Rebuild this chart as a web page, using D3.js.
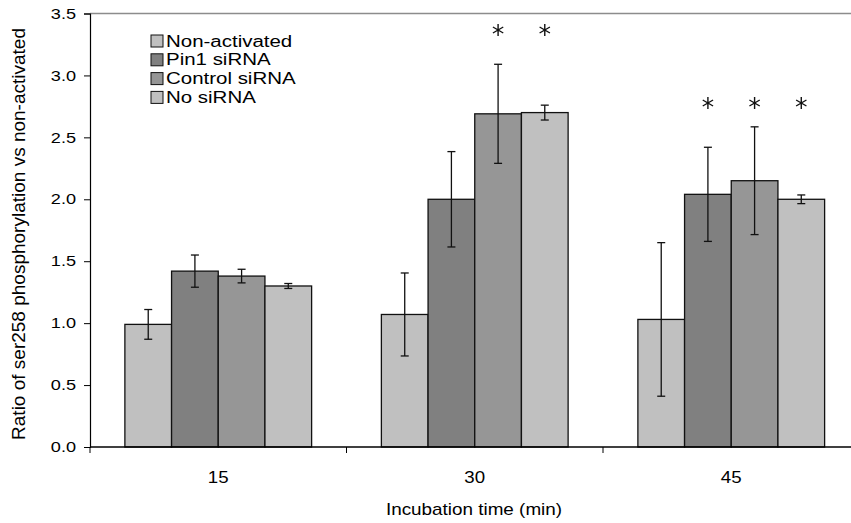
<!DOCTYPE html>
<html>
<head>
<meta charset="utf-8">
<script src="https://cdn.jsdelivr.net/npm/d3@7"></script>
<style>
  body { margin: 0; background: #fff; }
  text { font-family: "Liberation Sans", Arial, sans-serif; fill: #000; }
</style>
</head>
<body>
<div id="chart"></div>
<script>
// data
const times = ["15", "30", "45"]
const groups = ["Non-activated", "Pin1 siRNA", "Control siRNA", "No siRNA"]
const colors = ["#c0c0c0", "#808080", "#969696", "#c0c0c0"]
const means = [
  [0.99, 1.42, 1.38, 1.30],
  [1.07, 2.00, 2.69, 2.70],
  [1.03, 2.04, 2.15, 2.00]
]
const errs = [
  [0.12, 0.13, 0.055, 0.02],
  [0.335, 0.385, 0.40, 0.06],
  [0.62, 0.38, 0.435, 0.035]
]
// which bars carry an asterisk
const stars = [
  [false, false, false, false],
  [false, false, true, true],
  [false, true, true, true]
]
const yTicks = [0, 0.5, 1, 1.5, 2, 2.5, 3, 3.5]

var width = 851,
    height = 523,
    margin = {top: 13.5, left: 90, right: -8.5, bottom: 76}

// the source figure is stretched sideways, so text is widened a bit
var stretch = 1.25

var svg = d3.select("#chart")
  .append("svg")
    .attr("width", width)
    .attr("height", height)

var x0 = d3.scaleBand()
  .domain(times)
  .range([margin.left, width - margin.right])
  .paddingInner(0.272)
  .paddingOuter(0.136)

var x1 = d3.scaleBand()
  .domain(groups)
  .range([0, x0.bandwidth()])

var y = d3.scaleLinear()
  .domain([0, 3.5])
  .range([height - margin.bottom, margin.top])

// top border of plot area
svg.append("line")
  .attr("x1", margin.left).attr("x2", width)
  .attr("y1", y(3.5)).attr("y2", y(3.5))
  .attr("stroke", "#8c8c8c")
  .attr("stroke-width", 1.5)

// bars
var rows = means.map((m, i) => m.map((v, j) => ({
  t: times[i], g: groups[j], v: v, e: errs[i][j], star: stars[i][j], c: colors[j]
})))

var gGroups = svg.selectAll(".grp")
  .data(rows)
  .enter()
  .append("g")
    .attr("transform", (d, i) => "translate(" + x0(times[i]) + ",0)")

gGroups.selectAll("rect")
  .data(d => d)
  .enter()
  .append("rect")
    .attr("x", d => x1(d.g))
    .attr("width", x1.bandwidth())
    .attr("y", d => y(d.v))
    .attr("height", d => y(0) - y(d.v))
    .attr("fill", d => d.c)
    .attr("stroke", "#111")
    .attr("stroke-width", 1.3)

// error bars
var eb = gGroups.selectAll(".err")
  .data(d => d)
  .enter()
  .append("g")
    .attr("stroke", "#111")
    .attr("stroke-width", 1.3)

eb.append("line")
  .attr("x1", d => x1(d.g) + x1.bandwidth() / 2)
  .attr("x2", d => x1(d.g) + x1.bandwidth() / 2)
  .attr("y1", d => y(d.v + d.e))
  .attr("y2", d => y(d.v - d.e))
eb.append("line")
  .attr("x1", d => x1(d.g) + x1.bandwidth() / 2 - 4)
  .attr("x2", d => x1(d.g) + x1.bandwidth() / 2 + 4)
  .attr("y1", d => y(d.v + d.e))
  .attr("y2", d => y(d.v + d.e))
eb.append("line")
  .attr("x1", d => x1(d.g) + x1.bandwidth() / 2 - 4)
  .attr("x2", d => x1(d.g) + x1.bandwidth() / 2 + 4)
  .attr("y1", d => y(d.v - d.e))
  .attr("y2", d => y(d.v - d.e))

// asterisks (thin six-armed star like the original)
var starY = [null, 30, 103]
var star = d3.symbol().type(d3.symbolAsterisk).size(100)
gGroups.each(function(d, i) {
  d3.select(this).selectAll(".star")
    .data(d.filter(r => r.star))
    .enter()
    .append("path")
      .attr("d", star)
      .attr("transform", r => "translate(" + (x1(r.g) + x1.bandwidth() / 2) + "," + starY[i] + ")")
      .attr("fill", "none")
      .attr("stroke", "#111")
      .attr("stroke-width", 1.4)
})

// y axis
var yAxis = d3.axisLeft(y)
  .tickValues(yTicks)
  .tickSize(6)
  .tickFormat(d3.format(".1f"))

var gy = svg.append("g")
  .attr("transform", "translate(" + margin.left + ",0)")
  .call(yAxis)
gy.select(".domain").attr("stroke", "#000").attr("stroke-width", 1.2)
gy.selectAll(".tick line").attr("stroke", "#000")
gy.selectAll(".tick text")
  .style("font-size", "14.5px")
  .style("font-family", "Liberation Sans, Arial, sans-serif")
  .attr("x", -14 / stretch)
  .attr("transform", "scale(" + stretch + ",1)")

// x axis line with ticks at group boundaries
var xBounds = times.map(t => x0(t) - x0.step() * x0.paddingInner() / 2)
svg.append("line")
  .attr("x1", margin.left).attr("x2", width)
  .attr("y1", y(0)).attr("y2", y(0))
  .attr("stroke", "#000").attr("stroke-width", 1.3)
svg.selectAll(".xtick")
  .data(xBounds)
  .enter()
  .append("line")
    .attr("x1", d => d).attr("x2", d => d)
    .attr("y1", y(0)).attr("y2", y(0) + 6)
    .attr("stroke", "#000")
svg.selectAll(".xlab")
  .data(times)
  .enter()
  .append("text")
    .attr("transform", d => "translate(" + (x0(d) + x0.bandwidth() / 2) + "," + (y(0) + 36) + ") scale(1.1,1)")
    .attr("text-anchor", "middle")
    .style("font-size", "17px")
    .text(d => d)

// axis titles
svg.append("text")
  .attr("transform", "translate(474,515) scale(1.18,1)")
  .attr("text-anchor", "middle")
  .style("font-size", "16px")
  .text("Incubation time (min)")

svg.append("text")
  .attr("transform", "translate(25," + (y(1.72)) + ") rotate(-90)")
  .attr("text-anchor", "middle")
  .style("font-size", "19px")
  .text("Ratio of ser258 phosphorylation vs non-activated")

// legend
var legend = svg.selectAll(".legend")
  .data(groups)
  .enter()
  .append("g")
    .attr("transform", (d, i) => "translate(151," + (35 + i * 18.8) + ")")

legend.append("rect")
  .attr("width", 12)
  .attr("height", 12)
  .attr("fill", (d, i) => colors[i])
  .attr("stroke", "#111")
  .attr("stroke-width", 1)

legend.append("text")
  .attr("transform", "translate(15,11.5) scale(1.28,1)")
  .style("font-size", "16px")
  .text(d => d)
</script>
</body>
</html>
